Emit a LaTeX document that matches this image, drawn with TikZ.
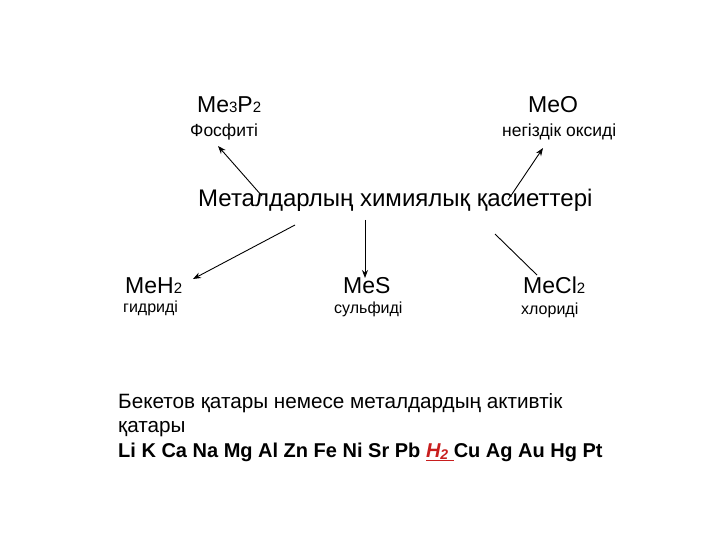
\documentclass[tikz,border=0pt]{standalone}
\usepackage{fontspec}
\setmainfont{Liberation Sans}
\usetikzlibrary{arrows.meta,calc}
\definecolor{hred}{RGB}{200,30,30}
\newcommand{\ix}[1]{{\fontsize{15}{17}\selectfont #1}}
\tikzset{
  formula/.style={font=\fontsize{23}{27}\selectfont, inner sep=0pt, anchor=base west},
  caption/.style={font=\fontsize{16}{19}\selectfont, inner sep=0pt, anchor=base west},
  row/.style={font=\fontsize{20.7}{24}\selectfont, inner sep=0pt, anchor=base west},
  link/.style={-{Stealth[length=8pt,width=6pt]}, line width=0.9pt}
}
\begin{document}
\begin{tikzpicture}[x=1pt,y=-1pt]
  \useasboundingbox (0,0) rectangle (720,540);
  % upper compounds
  \node[formula] (phos) at (197,113) {Me\ix{3}P\ix{2}};
  \node[caption, font=\fontsize{17.5}{20}\selectfont] (fosfit) at (190,137) {Фосфиті};
  \node[formula] (oxid) at (528,113) {MeO};
  \node[caption, font=\fontsize{17.5}{20}\selectfont] (oxide) at (502,137) {негіздік оксиді};
  % title
  \node[font=\fontsize{24}{28}\selectfont, inner sep=0pt, anchor=base west] (title) at (198,207) {Металдарлың химиялық қасиеттері};
  % lower compounds
  \node[formula] (meh) at (125,293) {MeH\ix{2}};
  \node[caption] (hydr) at (123,312) {гидриді};
  \node[formula] (mes) at (343,293) {MeS};
  \node[caption] (sulf) at (334,313) {сульфиді};
  \node[formula] (mecl) at (523,293) {MeCl\ix{2}};
  \node[caption] (chlor) at (521,314) {хлориді};
  % arrows
  \draw[link] ($(title.base west)+(64,-11)$) -- ($(fosfit.base west)+(28,9)$);
  \draw[link] ($(title.base west)+(310,-7)$) -- ($(oxide.base west)+(41,11)$);
  \draw[link] ($(title.base west)+(97,18)$) -- ($(meh.base west)+(68,-14)$);
  \draw[link] ($(title.base west)+(167,13)$) -- ($(mes.base west)+(22,-15)$);
  \draw[line width=0.9pt] ($(title.base west)+(297,27)$) -- ($(mecl.base west)+(14,-18)$);
  % Beketov series
  \node[row] (line1) at (118,408) {Бекетов қатары немесе металдардың активтік};
  \node[row] (line2) at (118,432) {қатары};
  \node[row, font=\fontsize{20}{24}\selectfont\bfseries] (line3) at (118,457)
    {Li K Ca Na Mg Al Zn Fe Ni Sr Pb \textcolor{hred}{\underline{\textit{H\raisebox{-2pt}{\fontsize{14}{16}\selectfont 2}}\ }}Cu Ag Au Hg Pt};
\end{tikzpicture}
\end{document}
